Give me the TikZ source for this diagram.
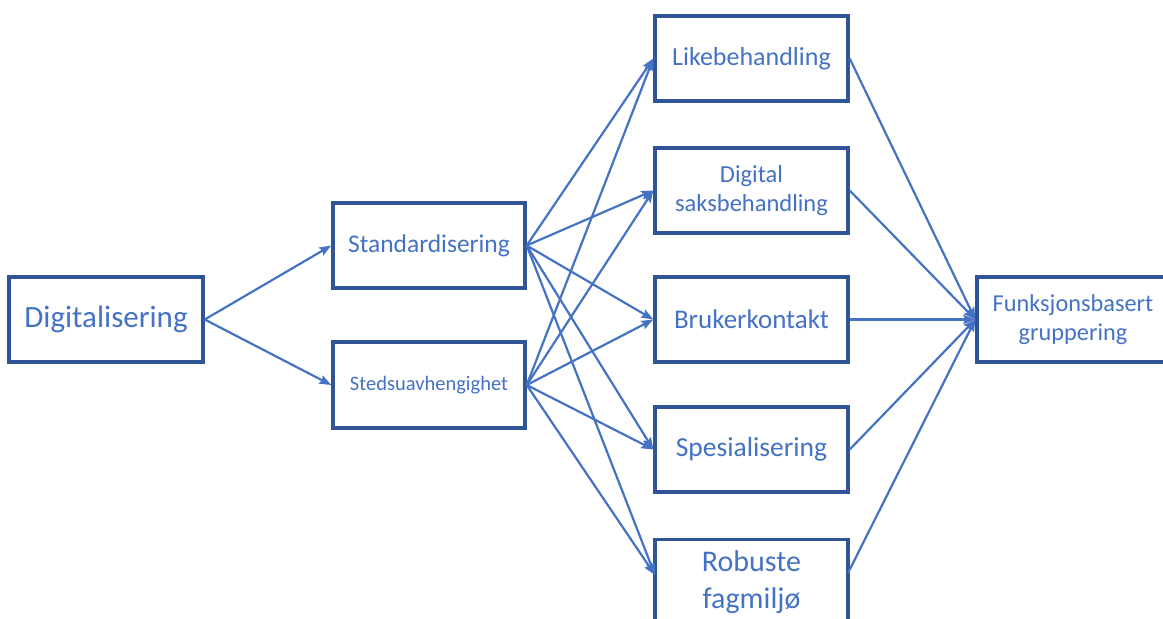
\documentclass[tikz,border=0pt]{standalone}
\usepackage{fontspec}
\setmainfont{Carlito}
\usetikzlibrary{arrows.meta}
\definecolor{txtblue}{HTML}{4472C4}
\definecolor{boxblue}{HTML}{2F5597}
\definecolor{lineblue}{HTML}{4472C4}
\begin{document}
\begin{tikzpicture}[x=1pt,y=-1pt,
  box/.style={draw=boxblue,line width=3.4pt,rectangle,inner sep=0pt,
    minimum height=85pt,text=txtblue,align=center,fill=white},
  wide/.style={minimum width=193pt},
  conn/.style={draw=lineblue,line width=2.2pt,
    -{Stealth[length=12pt,width=9pt,inset=2pt]}},
]
\useasboundingbox (0,0) rectangle (1163,619);

% first two levels
\node[box,minimum width=194pt,font=\fontsize{31}{36}\selectfont] (dig) at (106,319.5) {Digitalisering};
\node[box,minimum width=192pt,font=\fontsize{25.5}{30}\selectfont] (std) at (429,245.5) {Standardisering};
\node[box,minimum width=192pt,minimum height=86pt,font=\fontsize{20.5}{24}\selectfont] (sted) at (429,385) {Stedsuavhengighet};

% middle column
\node[box,wide,font=\fontsize{26}{30}\selectfont] (like) at (751.5,58.5) {Likebehandling};
\node[box,wide,font=\fontsize{24.5}{29}\selectfont] (dsb) at (751.5,190.5) {Digital\\saksbehandling};
\node[box,wide,font=\fontsize{27}{31}\selectfont] (bruk) at (751.5,319.5) {Brukerkontakt};
\node[box,wide,font=\fontsize{27.5}{31}\selectfont] (spes) at (751.5,449.5) {Spesialisering};
\node[box,wide,font=\fontsize{30}{36.5}\selectfont] (rob) at (751.5,582) {Robuste\\fagmiljø};
\coordinate (robin) at (655,575);
\coordinate (robout) at (848,573);

% target
\node[box,minimum width=192pt,font=\fontsize{24.3}{29}\selectfont] (fun) at (1073,319.5) {Funksjonsbasert\\gruppering};

% connectors
\draw[conn] (dig.east) -- (std.west);
\draw[conn] (dig.east) -- (sted.west);

\foreach \s in {std,sted}{
  \draw[conn] (\s.east) -- (like.west);
  \draw[conn] (\s.east) -- (dsb.west);
  \draw[conn] (\s.east) -- (bruk.west);
  \draw[conn] (\s.east) -- (spes.west);
  \draw[conn] (\s.east) -- (robin);
}

\draw[conn] (like.east) -- (fun.west);
\draw[conn] (dsb.east) -- (fun.west);
\draw[conn] (bruk.east) -- (fun.west);
\draw[conn] (spes.east) -- (fun.west);
\draw[conn] (robout) -- (fun.west);
\end{tikzpicture}
\end{document}
